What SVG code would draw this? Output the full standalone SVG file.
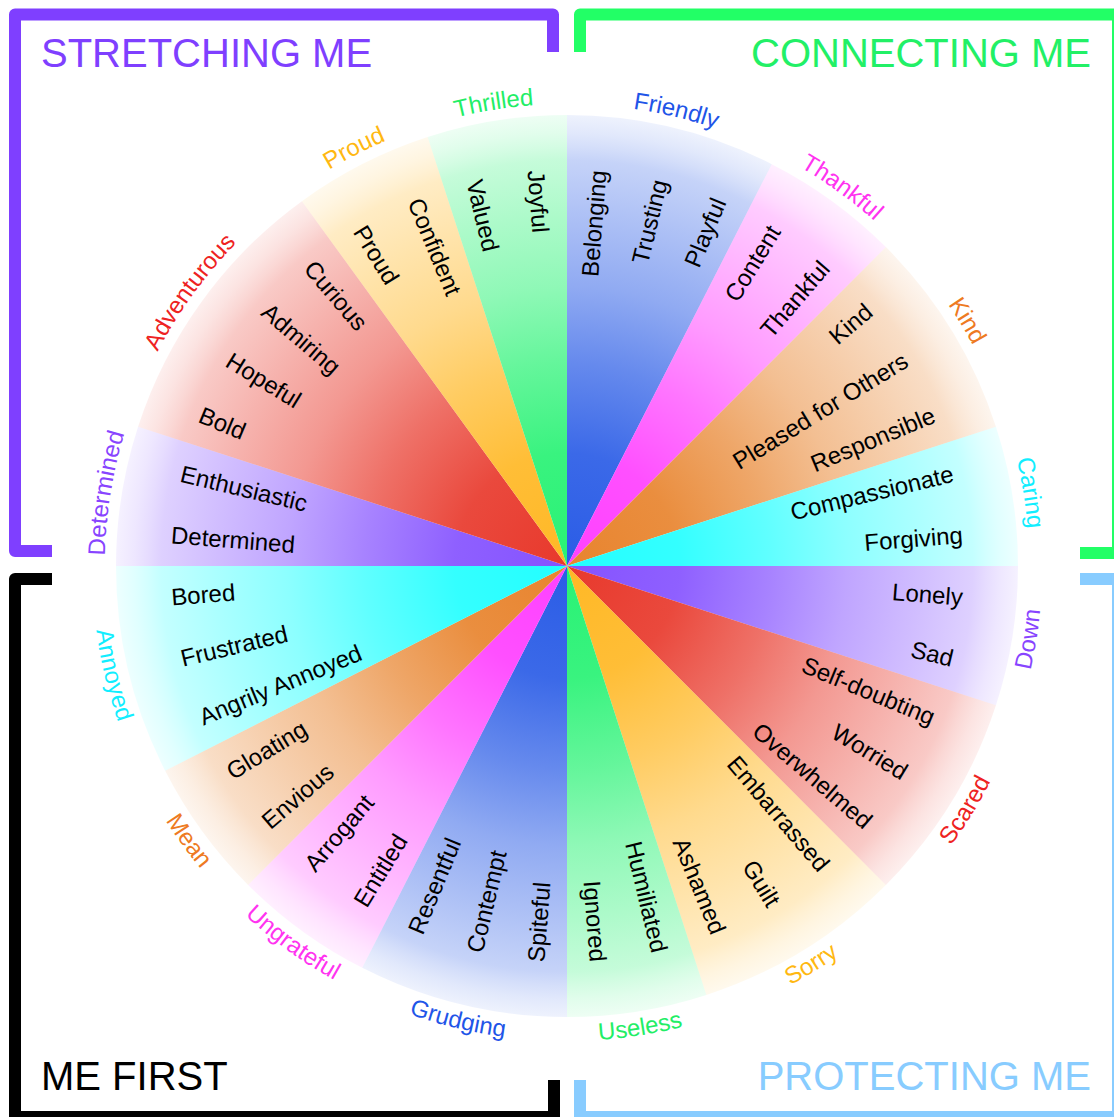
<svg xmlns="http://www.w3.org/2000/svg" width="1114" height="1117" viewBox="0 0 1114 1117">
<style>
text{font-family:"Liberation Sans",Arial,Helvetica,sans-serif}
.frame{fill:none;stroke-width:12;stroke-linejoin:round}
.title{font-size:40px}
.w{font-size:24px;fill:#000}
.r{text-anchor:end}
.l{text-anchor:start}
.lbl{font-size:24px;text-anchor:middle}
.o0{stop-opacity:1}.o1{stop-opacity:.92}.o2{stop-opacity:.72}.o3{stop-opacity:.52}.o4{stop-opacity:.38}.o5{stop-opacity:.27}.o6{stop-opacity:.2}.o7{stop-opacity:.14}.o8{stop-opacity:.08}
#gB stop{stop-color:#2a5ce6}#gM stop{stop-color:#ff40ff}#gO stop{stop-color:#e8842e}#gC stop{stop-color:#22ffff}
#gP stop{stop-color:#8552ff}#gR stop{stop-color:#e8392c}#gY stop{stop-color:#ffb825}#gG stop{stop-color:#28f274}
.sB{fill:url(#gB)}.sM{fill:url(#gM)}.sO{fill:url(#gO)}.sC{fill:url(#gC)}.sP{fill:url(#gP)}.sR{fill:url(#gR)}.sY{fill:url(#gY)}.sG{fill:url(#gG)}
.tB{fill:#1f55e8}.tM{fill:#ff33f0}.tO{fill:#ee7a22}.tC{fill:#11eeff}.tP{fill:#8844ff}.tR{fill:#ee2222}.tY{fill:#ffb811}.tG{fill:#22ee66}
</style>
<defs>
<radialGradient id="gB" gradientUnits="userSpaceOnUse" cx="567" cy="566" r="451"><stop offset="0" class="o0"/><stop offset=".25" class="o1"/><stop offset=".45" class="o2"/><stop offset=".62" class="o3"/><stop offset=".78" class="o4"/><stop offset=".9" class="o5"/><stop offset=".93" class="o6"/><stop offset=".96" class="o7"/><stop offset="1" class="o8"/></radialGradient>
<radialGradient id="gM" gradientUnits="userSpaceOnUse" cx="567" cy="566" r="451"><stop offset="0" class="o0"/><stop offset=".25" class="o1"/><stop offset=".45" class="o2"/><stop offset=".62" class="o3"/><stop offset=".78" class="o4"/><stop offset=".9" class="o5"/><stop offset=".93" class="o6"/><stop offset=".96" class="o7"/><stop offset="1" class="o8"/></radialGradient>
<radialGradient id="gO" gradientUnits="userSpaceOnUse" cx="567" cy="566" r="451"><stop offset="0" class="o0"/><stop offset=".25" class="o1"/><stop offset=".45" class="o2"/><stop offset=".62" class="o3"/><stop offset=".78" class="o4"/><stop offset=".9" class="o5"/><stop offset=".93" class="o6"/><stop offset=".96" class="o7"/><stop offset="1" class="o8"/></radialGradient>
<radialGradient id="gC" gradientUnits="userSpaceOnUse" cx="567" cy="566" r="451"><stop offset="0" class="o0"/><stop offset=".25" class="o1"/><stop offset=".45" class="o2"/><stop offset=".62" class="o3"/><stop offset=".78" class="o4"/><stop offset=".9" class="o5"/><stop offset=".93" class="o6"/><stop offset=".96" class="o7"/><stop offset="1" class="o8"/></radialGradient>
<radialGradient id="gP" gradientUnits="userSpaceOnUse" cx="567" cy="566" r="451"><stop offset="0" class="o0"/><stop offset=".25" class="o1"/><stop offset=".45" class="o2"/><stop offset=".62" class="o3"/><stop offset=".78" class="o4"/><stop offset=".9" class="o5"/><stop offset=".93" class="o6"/><stop offset=".96" class="o7"/><stop offset="1" class="o8"/></radialGradient>
<radialGradient id="gR" gradientUnits="userSpaceOnUse" cx="567" cy="566" r="451"><stop offset="0" class="o0"/><stop offset=".25" class="o1"/><stop offset=".45" class="o2"/><stop offset=".62" class="o3"/><stop offset=".78" class="o4"/><stop offset=".9" class="o5"/><stop offset=".93" class="o6"/><stop offset=".96" class="o7"/><stop offset="1" class="o8"/></radialGradient>
<radialGradient id="gY" gradientUnits="userSpaceOnUse" cx="567" cy="566" r="451"><stop offset="0" class="o0"/><stop offset=".25" class="o1"/><stop offset=".45" class="o2"/><stop offset=".62" class="o3"/><stop offset=".78" class="o4"/><stop offset=".9" class="o5"/><stop offset=".93" class="o6"/><stop offset=".96" class="o7"/><stop offset="1" class="o8"/></radialGradient>
<radialGradient id="gG" gradientUnits="userSpaceOnUse" cx="567" cy="566" r="451"><stop offset="0" class="o0"/><stop offset=".25" class="o1"/><stop offset=".45" class="o2"/><stop offset=".62" class="o3"/><stop offset=".78" class="o4"/><stop offset=".9" class="o5"/><stop offset=".93" class="o6"/><stop offset=".96" class="o7"/><stop offset="1" class="o8"/></radialGradient>
<path id="arcTop" d="M567,1028 A462,462 0 1,1 567,104 A462,462 0 1,1 567,1028"/>
<path id="arcBot" d="M567,91 A475,475 0 1,0 567,1041 A475,475 0 1,0 567,91"/>
</defs>
<rect width="1114" height="1117" fill="#fff"/>

<g id="stretching-me">
<path class="frame" stroke="#7f3fff" d="M553,52 V14.5 H15 V551 H52"/>
<text class="title" x="41" y="67" fill="#7f3fff">STRETCHING ME</text>
</g>
<g id="connecting-me">
<path class="frame" stroke="#22ff66" d="M580,52 V14.5 H1118 V553 H1080"/>
<text class="title" x="1091" y="67" text-anchor="end" fill="#22f066">CONNECTING ME</text>
</g>
<g id="me-first">
<path class="frame" stroke="#000" d="M52,579 H15 V1117 H554 V1080"/>
<text class="title" x="41" y="1090" fill="#000">ME FIRST</text>
</g>
<g id="protecting-me">
<path class="frame" stroke="#88ccff" d="M1080,579 H1118 V1117 H580 V1080"/>
<text class="title" x="1091" y="1090" text-anchor="end" fill="#88ccff">PROTECTING ME</text>
</g>

<g id="friendly">
<path class="sB" d="M567,566 L567,115 A451,451 0 0,1 771.75,164.15 Z"/>
<g class="w r" transform="translate(567 566)">
<text transform="rotate(-85.5)" x="397" dy=".35em">Belonging</text>
<text transform="rotate(-76.5)" x="397" dy=".35em">Trusting</text>
<text transform="rotate(-67.5)" x="397" dy=".35em">Playful</text>
</g>
<text class="lbl tB"><textPath href="#arcTop" startOffset="53.75%">Friendly</textPath></text>
</g>
<g id="thankful">
<path class="sM" d="M567,566 L771.75,164.15 A451,451 0 0,1 885.9,247.1 Z"/>
<g class="w r" transform="translate(567 566)">
<text transform="rotate(-58.5)" x="397" dy=".35em">Content</text>
<text transform="rotate(-49.5)" x="397" dy=".35em">Thankful</text>
</g>
<text class="lbl tM"><textPath href="#arcTop" startOffset="60%">Thankful</textPath></text>
</g>
<g id="kind">
<path class="sO" d="M567,566 L885.9,247.1 A451,451 0 0,1 995.93,426.63 Z"/>
<g class="w r" transform="translate(567 566)">
<text transform="rotate(-40.5)" x="397" dy=".35em">Kind</text>
<text transform="rotate(-31.5)" x="397" dy=".35em">Pleased for Others</text>
<text transform="rotate(-22.5)" x="397" dy=".35em">Responsible</text>
</g>
<text class="lbl tO"><textPath href="#arcTop" startOffset="66.25%">Kind</textPath></text>
</g>
<g id="caring">
<path class="sC" d="M567,566 L995.93,426.63 A451,451 0 0,1 1018,566 Z"/>
<g class="w r" transform="translate(567 566)">
<text transform="rotate(-13.5)" x="397" dy=".35em">Compassionate</text>
<text transform="rotate(-4.5)" x="397" dy=".35em">Forgiving</text>
</g>
<text class="lbl tC"><textPath href="#arcTop" startOffset="72.5%">Caring</textPath></text>
</g>
<g id="down">
<path class="sP" d="M567,566 L1018,566 A451,451 0 0,1 995.93,705.37 Z"/>
<g class="w r" transform="translate(567 566)">
<text transform="rotate(4.5)" x="397" dy=".35em">Lonely</text>
<text transform="rotate(13.5)" x="397" dy=".35em">Sad</text>
</g>
<text class="lbl tP"><textPath href="#arcBot" startOffset="72.5%">Down</textPath></text>
</g>
<g id="scared">
<path class="sR" d="M567,566 L995.93,705.37 A451,451 0 0,1 885.9,884.9 Z"/>
<g class="w r" transform="translate(567 566)">
<text transform="rotate(22.5)" x="397" dy=".35em">Self-doubting</text>
<text transform="rotate(31.5)" x="397" dy=".35em">Worried</text>
<text transform="rotate(40.5)" x="397" dy=".35em">Overwhelmed</text>
</g>
<text class="lbl tR"><textPath href="#arcBot" startOffset="66.25%">Scared</textPath></text>
</g>
<g id="sorry">
<path class="sY" d="M567,566 L885.9,884.9 A451,451 0 0,1 706.37,994.93 Z"/>
<g class="w r" transform="translate(567 566)">
<text transform="rotate(49.5)" x="397" dy=".35em">Embarrassed</text>
<text transform="rotate(58.5)" x="397" dy=".35em">Guilt</text>
<text transform="rotate(67.5)" x="397" dy=".35em">Ashamed</text>
</g>
<text class="lbl tY"><textPath href="#arcBot" startOffset="58.75%">Sorry</textPath></text>
</g>
<g id="useless">
<path class="sG" d="M567,566 L706.37,994.93 A451,451 0 0,1 567,1017 Z"/>
<g class="w r" transform="translate(567 566)">
<text transform="rotate(76.5)" x="397" dy=".35em">Humiliated</text>
<text transform="rotate(85.5)" x="397" dy=".35em">Ignored</text>
</g>
<text class="lbl tG"><textPath href="#arcBot" startOffset="52.5%">Useless</textPath></text>
</g>
<g id="grudging">
<path class="sB" d="M567,566 L567,1017 A451,451 0 0,1 362.25,967.85 Z"/>
<g class="w l" transform="translate(567 566)">
<text transform="rotate(-85.5)" x="-397" dy=".35em">Spiteful</text>
<text transform="rotate(-76.5)" x="-397" dy=".35em">Contempt</text>
<text transform="rotate(-67.5)" x="-397" dy=".35em">Resentful</text>
</g>
<text class="lbl tB"><textPath href="#arcBot" startOffset="46.25%">Grudging</textPath></text>
</g>
<g id="ungrateful">
<path class="sM" d="M567,566 L362.25,967.85 A451,451 0 0,1 248.1,884.9 Z"/>
<g class="w l" transform="translate(567 566)">
<text transform="rotate(-58.5)" x="-397" dy=".35em">Entitled</text>
<text transform="rotate(-49.5)" x="-397" dy=".35em">Arrogant</text>
</g>
<text class="lbl tM"><textPath href="#arcBot" startOffset="40%">Ungrateful</textPath></text>
</g>
<g id="mean">
<path class="sO" d="M567,566 L248.1,884.9 A451,451 0 0,1 165.15,770.75 Z"/>
<g class="w l" transform="translate(567 566)">
<text transform="rotate(-40.5)" x="-397" dy=".35em">Envious</text>
<text transform="rotate(-31.5)" x="-397" dy=".35em">Gloating</text>
</g>
<text class="lbl tO"><textPath href="#arcBot" startOffset="35%">Mean</textPath></text>
</g>
<g id="annoyed">
<path class="sC" d="M567,566 L165.15,770.75 A451,451 0 0,1 116,566 Z"/>
<g class="w l" transform="translate(567 566)">
<text transform="rotate(-22.5)" x="-397" dy=".35em">Angrily Annoyed</text>
<text transform="rotate(-13.5)" x="-397" dy=".35em">Frustrated</text>
<text transform="rotate(-4.5)" x="-397" dy=".35em">Bored</text>
</g>
<text class="lbl tC"><textPath href="#arcBot" startOffset="28.75%">Annoyed</textPath></text>
</g>
<g id="determined">
<path class="sP" d="M567,566 L116,566 A451,451 0 0,1 138.07,426.63 Z"/>
<g class="w l" transform="translate(567 566)">
<text transform="rotate(4.5)" x="-397" dy=".35em">Determined</text>
<text transform="rotate(13.5)" x="-397" dy=".35em">Enthusiastic</text>
</g>
<text class="lbl tP"><textPath href="#arcTop" startOffset="27.5%">Determined</textPath></text>
</g>
<g id="adventurous">
<path class="sR" d="M567,566 L138.07,426.63 A451,451 0 0,1 301.91,201.13 Z"/>
<g class="w l" transform="translate(567 566)">
<text transform="rotate(22.5)" x="-397" dy=".35em">Bold</text>
<text transform="rotate(31.5)" x="-397" dy=".35em">Hopeful</text>
<text transform="rotate(40.5)" x="-397" dy=".35em">Admiring</text>
<text transform="rotate(49.5)" x="-397" dy=".35em">Curious</text>
</g>
<text class="lbl tR"><textPath href="#arcTop" startOffset="35%">Adventurous</textPath></text>
</g>
<g id="proud">
<path class="sY" d="M567,566 L301.91,201.13 A451,451 0 0,1 427.63,137.07 Z"/>
<g class="w l" transform="translate(567 566)">
<text transform="rotate(58.5)" x="-397" dy=".35em">Proud</text>
<text transform="rotate(67.5)" x="-397" dy=".35em">Confident</text>
</g>
<text class="lbl tY"><textPath href="#arcTop" startOffset="42.5%">Proud</textPath></text>
</g>
<g id="thrilled">
<path class="sG" d="M567,566 L427.63,137.07 A451,451 0 0,1 567,115 Z"/>
<g class="w l" transform="translate(567 566)">
<text transform="rotate(76.5)" x="-397" dy=".35em">Valued</text>
<text transform="rotate(85.5)" x="-397" dy=".35em">Joyful</text>
</g>
<text class="lbl tG"><textPath href="#arcTop" startOffset="47.5%">Thrilled</textPath></text>
</g>
</svg>
